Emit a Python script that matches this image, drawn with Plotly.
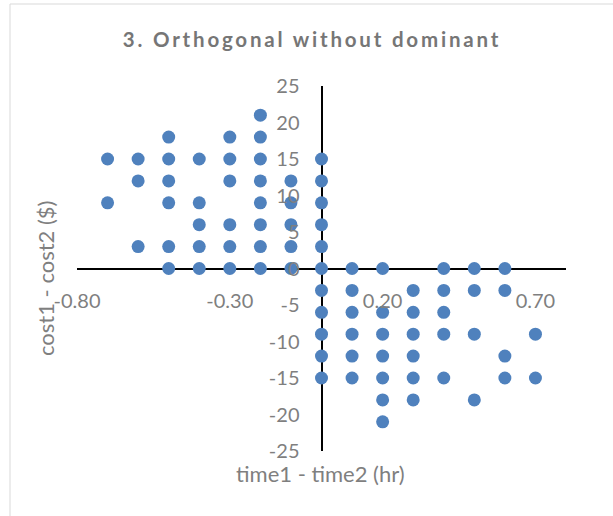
import plotly.graph_objects as go

# time1 - time2 (hr)
time_diff = [
    -0.2,
    -0.5, -0.3, -0.2,
    -0.7, -0.6, -0.5, -0.4, -0.3, -0.2, 0.0,
    -0.6, -0.5, -0.3, -0.2, -0.1, 0.0,
    -0.7, -0.5, -0.4, -0.2, -0.1, 0.0,
    -0.4, -0.3, -0.2, -0.1, 0.0,
    -0.6, -0.5, -0.4, -0.3, -0.2, -0.1, 0.0,
    -0.5, -0.4, -0.3, -0.2, -0.1, 0.0, 0.1, 0.2, 0.4, 0.5, 0.6,
    0.0, 0.1, 0.3, 0.4, 0.5, 0.6,
    0.0, 0.1, 0.2, 0.3, 0.4,
    0.0, 0.1, 0.2, 0.3, 0.4, 0.5, 0.7,
    0.0, 0.1, 0.2, 0.3, 0.6,
    0.0, 0.1, 0.2, 0.3, 0.4, 0.6, 0.7,
    0.2, 0.3, 0.5,
    0.2,
]
# cost1 - cost2 ($)
cost_diff = (
    [21] * 1 + [18] * 3 + [15] * 7 + [12] * 6 + [9] * 6 + [6] * 5 + [3] * 7
    + [0] * 11 + [-3] * 6 + [-6] * 5 + [-9] * 7 + [-12] * 5 + [-15] * 7
    + [-18] * 3 + [-21] * 1
)

x_ticks = [-0.8, -0.3, 0.2, 0.7]
y_ticks = [-25, -20, -15, -10, -5, 0, 5, 10, 15, 20, 25]
x_range = [-0.8, 0.8]
y_range = [-25, 25]

title_text = "3. Orthogonal without dominant"
x_title = "time1 - time2 (hr)"
y_title = "cost1 - cost2 ($)"

W, H = 613, 516
L, R, T, B = 77, 47, 86, 65
PW, PH = W - L - R, H - T - B

gray = "#7f7f7f"
font_family = "Lato, 'Open Sans', sans-serif"

fig = go.Figure()
fig.add_trace(go.Scatter(
    x=time_diff, y=cost_diff, mode="markers",
    marker=dict(color="#4F81BD", size=13, line=dict(width=0)),
    hoverinfo="x+y", showlegend=False,
))

tickfont = dict(family=font_family, size=20, color=gray)

fig.update_layout(
    width=W, height=H,
    margin=dict(l=L, r=R, t=T, b=B),
    paper_bgcolor="white", plot_bgcolor="rgba(0,0,0,0)",
    title=dict(
        text='<span style="letter-spacing:2.8px">' + title_text + "</span>",
        x=(312 - L) / PW, xref="paper", xanchor="center",
        y=1 - 40 / H, yref="container", yanchor="middle",
        font=dict(family=font_family, size=20.5, color="#767676", weight="bold"),
    ),
    # axis lines (beneath the markers)
    xaxis=dict(range=x_range, anchor="free", position=0.5, showline=True,
               linecolor="black", linewidth=1.6, showgrid=False, zeroline=False,
               showticklabels=False, ticks="", layer="below traces", fixedrange=True),
    yaxis=dict(range=y_range, anchor="free", position=0.5, showline=True,
               linecolor="black", linewidth=1.6, showgrid=False, zeroline=False,
               showticklabels=False, ticks="", layer="below traces", fixedrange=True),
    # tick labels (above the markers)
    xaxis2=dict(range=x_range, overlaying="x", anchor="free", position=0.5,
                showline=False, showgrid=False, zeroline=False,
                tickmode="array", tickvals=x_ticks,
                ticktext=[f"{v:.2f}" for v in x_ticks],
                ticks="", ticklabelstandoff=18, tickfont=tickfont,
                layer="above traces", fixedrange=True),
    yaxis2=dict(range=y_range, overlaying="y", anchor="free", position=0.5,
                showline=False, showgrid=False, zeroline=False,
                tickmode="array", tickvals=y_ticks,
                ticktext=[str(v) for v in y_ticks],
                ticks="", ticklabelstandoff=22, tickfont=tickfont,
                layer="above traces", fixedrange=True),
    annotations=[
        dict(text=x_title, xref="paper", yref="paper",
             x=(320 - L) / PW, y=(T + PH - 473) / PH,
             xanchor="center", yanchor="middle", showarrow=False,
             font=dict(family=font_family, size=22, color=gray)),
        dict(text=y_title, xref="paper", yref="paper",
             x=(45 - L) / PW, y=(T + PH - 279) / PH, textangle=-90,
             xanchor="center", yanchor="middle", showarrow=False,
             font=dict(family=font_family, size=22, color=gray)),
    ],
    shapes=[
        dict(type="rect", xref="paper", yref="paper",
             x0=(10 - L) / PW, x1=(W + 5 - L) / PW,
             y0=(T + PH - (H + 5)) / PH, y1=(T + PH - 4) / PH,
             line=dict(color="#d9d9d9", width=1), fillcolor="rgba(0,0,0,0)",
             layer="below"),
    ],
)

# invisible trace to activate the label axes
fig.add_trace(go.Scatter(x=[None], y=[None], xaxis="x2", yaxis="y2",
                         showlegend=False, hoverinfo="skip"))

fig.write_html("out.html", config={"displayModeBar": False},
               post_script="document.body.style.margin='0';")
